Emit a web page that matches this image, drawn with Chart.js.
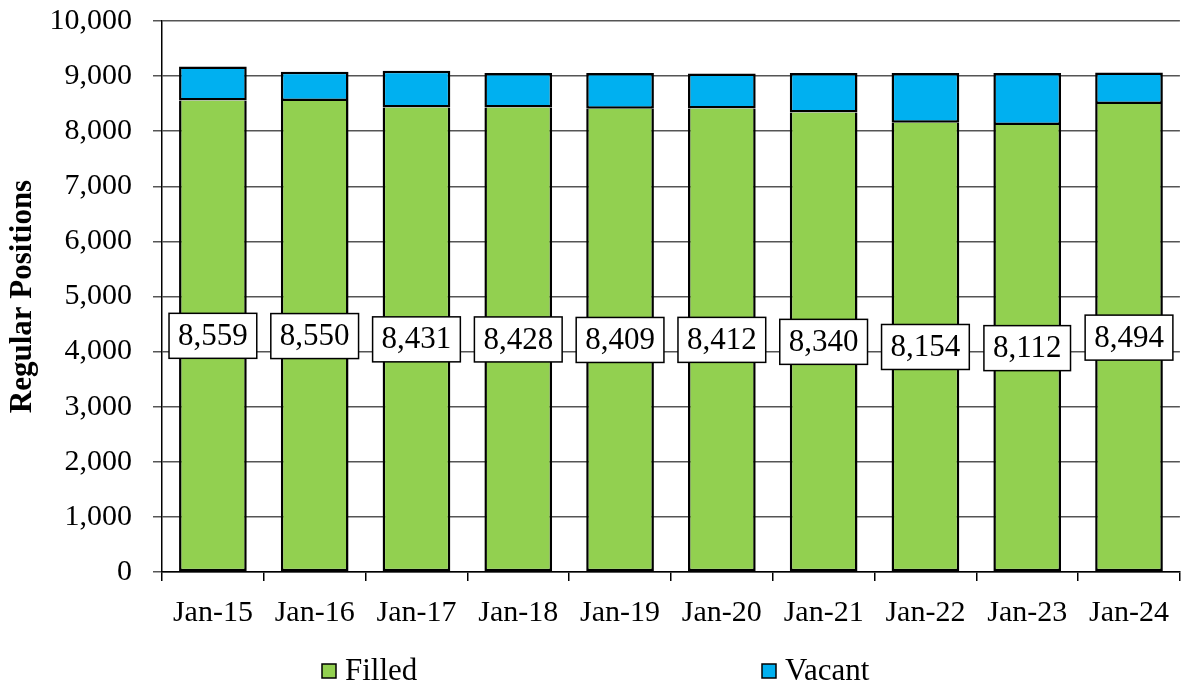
<!DOCTYPE html>
<html>
<head>
<meta charset="utf-8">
<script src="https://cdn.jsdelivr.net/npm/chart.js@4.4.1/dist/chart.umd.min.js"></script>
<style>
html,body{margin:0;padding:0;background:#fff;}
#wrap{width:1183px;height:688px;position:relative;}
</style>
</head>
<body>
<div id="wrap"><canvas id="c" width="1183" height="688"></canvas></div>
<script>
const categories = ['Jan-15','Jan-16','Jan-17','Jan-18','Jan-19','Jan-20','Jan-21','Jan-22','Jan-23','Jan-24'];
const filled = [8559, 8550, 8431, 8428, 8409, 8412, 8340, 8154, 8112, 8494];
const vacant = [617, 528, 666, 627, 646, 637, 715, 901, 943, 573];
const seriesNames = ['Filled', 'Vacant'];
const seriesColors = ['#92D050', '#00B0F0'];
const yTitle = 'Regular Positions';

const FONT = "'Liberation Serif', 'Times New Roman', serif";

const labelPlugin = {
  id: 'filledLabels',
  afterDatasetsDraw(chart) {
    const ctx = chart.ctx;
    const meta = chart.getDatasetMeta(0);
    ctx.save();
    ctx.font = '31px ' + FONT;
    ctx.textAlign = 'center';
    ctx.textBaseline = 'middle';
    meta.data.forEach((bar, i) => {
      const txt = filled[i].toLocaleString('en-US');
      const cy = (bar.y + bar.base) / 2;
      const w = ctx.measureText(txt).width + 18;
      const h = 45;
      ctx.fillStyle = '#fff';
      ctx.fillRect(bar.x - w / 2, cy - h / 2, w, h);
      ctx.strokeStyle = '#000';
      ctx.lineWidth = 1.5;
      ctx.strokeRect(bar.x - w / 2, cy - h / 2, w, h);
      ctx.fillStyle = '#000';
      ctx.fillText(txt, bar.x, cy + 1);
    });
    ctx.restore();
  }
};

const legendPlugin = {
  id: 'customLegend',
  afterDraw(chart) {
    const ctx = chart.ctx;
    const xs = [322, 762];
    const y = 671;
    ctx.save();
    ctx.font = '31px ' + FONT;
    ctx.textBaseline = 'middle';
    ctx.textAlign = 'left';
    seriesNames.forEach((n, i) => {
      ctx.fillStyle = seriesColors[i];
      ctx.fillRect(xs[i], y - 7, 14, 14);
      ctx.strokeStyle = '#000';
      ctx.lineWidth = 1.5;
      ctx.strokeRect(xs[i], y - 7, 14, 14);
      ctx.fillStyle = '#000';
      ctx.fillText(n, xs[i] + 23, y + 1);
    });
    ctx.restore();
  }
};

new Chart(document.getElementById('c'), {
  type: 'bar',
  data: {
    labels: categories,
    datasets: [
      { label: seriesNames[0], data: filled, backgroundColor: seriesColors[0], borderColor: '#000', borderWidth: 2.5, borderSkipped: 'top' },
      { label: seriesNames[1], data: vacant, backgroundColor: seriesColors[1], borderColor: '#000', borderWidth: 2.5, borderSkipped: false }
    ]
  },
  options: {
    responsive: false,
    animation: false,
    devicePixelRatio: 1,
    layout: { padding: { top: 21, right: 0, bottom: 43, left: 0 } },
    datasets: { bar: { categoryPercentage: 1, barPercentage: 0.665 } },
    plugins: {
      legend: { display: false },
      tooltip: { enabled: false }
    },
    scales: {
      x: {
        stacked: true,
        grid: { display: true, drawOnChartArea: false, drawTicks: true, tickLength: 9, color: '#000', lineWidth: 1.5, offset: true },
        border: { display: true, color: '#000', width: 1.5 },
        ticks: { color: '#000', font: { family: FONT, size: 30 }, padding: 14, maxRotation: 0, autoSkip: false }
      },
      y: {
        stacked: true,
        min: 0, max: 10000,
        afterFit: s => { s.width = 162; s.paddingTop = 0; s.paddingBottom = 0; },
        grid: { display: true, color: '#555555', lineWidth: 1.5, tickLength: 9, drawTicks: true },
        border: { display: true, color: '#000', width: 1.5 },
        ticks: { stepSize: 1000, color: '#000', font: { family: FONT, size: 30 }, padding: 21,
          callback: v => Number(v).toLocaleString('en-US') },
        title: { display: true, text: yTitle, color: '#000', font: { family: FONT, size: 31, weight: 'bold' }, padding: { top: 4, bottom: 4 } }
      }
    }
  },
  plugins: [labelPlugin, legendPlugin]
});
</script>
</body>
</html>
